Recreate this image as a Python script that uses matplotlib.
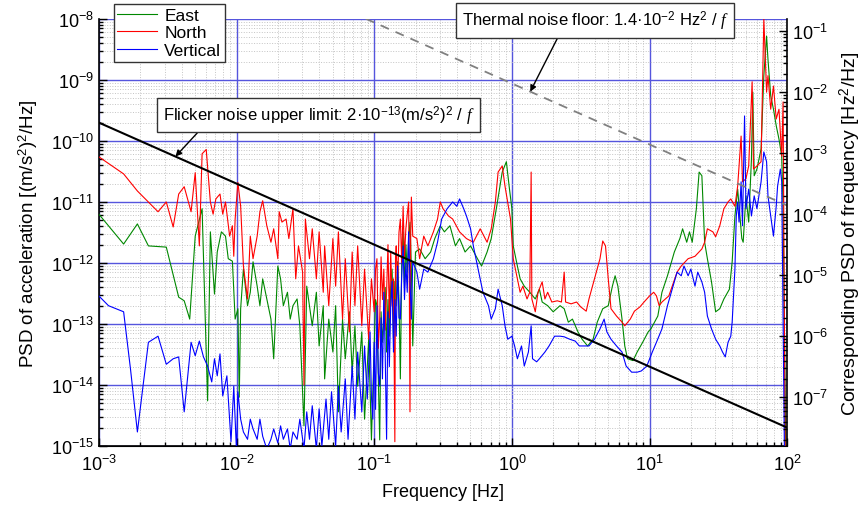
import numpy as np
import matplotlib
matplotlib.use("Agg")
import matplotlib.pyplot as plt
from matplotlib.ticker import LogLocator, NullFormatter

plt.rcParams['font.family'] = ['Liberation Sans', 'DejaVu Sans']
plt.rcParams['mathtext.fontset'] = 'custom'
plt.rcParams['mathtext.rm'] = 'Liberation Sans'
plt.rcParams['mathtext.it'] = 'Liberation Serif:italic'
plt.rcParams['mathtext.bf'] = 'Liberation Sans:bold'
plt.rcParams['mathtext.sf'] = 'Liberation Sans'

# (log10 frequency [Hz], log10 PSD [(m/s^2)^2/Hz])
east = [(-3.0, -11.2), (-2.82, -11.69), (-2.72, -11.36), (-2.64, -11.72), (-2.51, -11.74),
        (-2.42, -12.56), (-2.38, -12.62), (-2.34, -12.92), (-2.30, -11.56), (-2.25, -11.11),
        (-2.21, -14.26), (-2.19, -11.49), (-2.16, -12.51), (-2.14, -11.82), (-2.11, -11.49),
        (-2.08, -11.56), (-2.06, -11.93), (-2.03, -11.97), (-2.01, -12.92), (-1.99, -12.75),
        (-1.98, -14.2), (-1.97, -12.75), (-1.95, -12.1), (-1.92, -12.7), (-1.90, -12.48),
        (-1.88, -11.98), (-1.85, -12.38), (-1.83, -12.7), (-1.81, -12.26), (-1.78, -12.59),
        (-1.75, -12.92), (-1.73, -13.57), (-1.70, -12.05), (-1.68, -12.26), (-1.66, -12.7),
        (-1.63, -12.48), (-1.61, -12.92), (-1.59, -12.7), (-1.56, -12.59), (-1.54, -13.03),
        (-1.51, -14.67), (-1.49, -12.38), (-1.47, -12.7), (-1.45, -13.03), (-1.42, -12.48),
        (-1.40, -13.36), (-1.37, -12.7), (-1.36, -13.9), (-1.33, -12.92), (-1.30, -13.46),
        (-1.28, -12.7), (-1.26, -14.44), (-1.23, -12.92), (-1.21, -13.57), (-1.18, -12.8),
        (-1.16, -13.79), (-1.14, -13.03), (-1.12, -14.02), (-1.09, -13.13), (-1.07, -14.56),
        (-1.04, -13.25), (-1.02, -14.9), (-1.0, -13.36), (-0.99, -12.6), (-0.98, -12.7),
        (-0.97, -13.9), (-0.96, -14.9), (-0.95, -12.8), (-0.94, -13.3), (-0.93, -12.92),
        (-0.92, -12.4), (-0.91, -13.46), (-0.90, -12.6), (-0.89, -13.2), (-0.88, -12.38),
        (-0.87, -12.1), (-0.86, -13.25), (-0.85, -12.3), (-0.84, -12.7), (-0.83, -11.98),
        (-0.82, -12.6), (-0.81, -13.9), (-0.80, -12.0), (-0.79, -11.49), (-0.78, -12.4),
        (-0.77, -11.7), (-0.76, -12.15), (-0.75, -11.6), (-0.74, -11.33), (-0.73, -12.1),
        (-0.72, -13.36), (-0.70, -11.82), (-0.67, -11.77), (-0.63, -11.93), (-0.59, -11.82),
        (-0.56, -11.6), (-0.52, -11.39), (-0.49, -11.49), (-0.45, -11.39), (-0.41, -11.72),
        (-0.38, -11.6), (-0.34, -11.82), (-0.30, -11.72), (-0.25, -11.93), (-0.22, -12.05),
        (-0.18, -11.82), (-0.15, -11.6), (-0.11, -11.07), (-0.07, -10.51), (-0.04, -10.34),
        (-0.02, -10.74), (0.0, -11.11), (0.01, -11.72), (0.04, -12.05), (0.06, -12.26),
        (0.09, -12.38), (0.13, -12.48), (0.17, -12.59), (0.20, -12.43), (0.22, -12.64),
        (0.26, -12.7), (0.30, -12.8), (0.35, -12.7), (0.38, -12.75), (0.41, -12.97),
        (0.44, -12.92), (0.48, -13.13), (0.51, -13.25), (0.55, -13.36), (0.59, -13.25),
        (0.62, -12.97), (0.66, -12.75), (0.70, -12.7), (0.73, -12.38), (0.75, -12.21),
        (0.77, -12.38), (0.80, -12.92), (0.82, -13.36), (0.84, -13.57), (0.88, -13.6),
        (0.91, -13.46), (0.95, -13.3), (0.99, -13.13), (1.01, -13.08), (1.06, -12.87),
        (1.09, -12.48), (1.13, -12.21), (1.18, -11.82), (1.22, -11.6), (1.24, -11.44),
        (1.27, -11.66), (1.29, -11.49), (1.31, -11.66), (1.34, -11.11), (1.36, -10.51),
        (1.38, -10.57), (1.40, -11.66), (1.42, -11.93), (1.45, -12.31), (1.48, -12.8),
        (1.51, -12.75), (1.54, -12.59), (1.58, -12.43), (1.60, -11.98), (1.62, -11.23),
        (1.64, -10.79), (1.67, -11.6), (1.68, -11.66), (1.70, -10.9), (1.72, -11.33),
        (1.74, -10.3), (1.75, -9.2), (1.76, -10.57), (1.78, -10.46), (1.81, -10.13),
        (1.83, -8.93), (1.85, -8.28), (1.86, -8.66), (1.88, -9.26), (1.90, -9.48),
        (1.92, -9.75), (1.94, -9.97), (1.96, -10.25), (1.97, -11.11), (1.99, -15.2)]

north = [(-3.0, -10.26), (-2.82, -10.54), (-2.72, -10.82), (-2.57, -11.16), (-2.51, -11.0),
         (-2.46, -11.41), (-2.42, -10.87), (-2.38, -10.75), (-2.33, -11.16), (-2.30, -10.52),
         (-2.27, -11.72), (-2.25, -10.21), (-2.22, -10.14), (-2.19, -11.0), (-2.17, -11.2),
         (-2.15, -10.95), (-2.12, -10.87), (-2.10, -11.2), (-2.08, -11.0), (-2.05, -11.56),
         (-2.03, -11.39), (-2.02, -11.89), (-2.01, -11.28), (-1.99, -10.68), (-1.97, -11.07),
         (-1.95, -12.05), (-1.92, -12.59), (-1.90, -11.56), (-1.88, -11.93), (-1.85, -11.56),
         (-1.83, -11.16), (-1.81, -10.98), (-1.78, -11.39), (-1.75, -11.66), (-1.73, -11.44),
         (-1.70, -11.93), (-1.69, -11.16), (-1.67, -11.33), (-1.64, -11.28), (-1.62, -11.6),
         (-1.59, -11.11), (-1.57, -12.26), (-1.55, -11.72), (-1.52, -12.15), (-1.51, -14.0),
         (-1.50, -11.28), (-1.47, -11.93), (-1.45, -11.44), (-1.42, -12.26), (-1.40, -11.49),
         (-1.37, -12.48), (-1.36, -11.72), (-1.33, -12.7), (-1.30, -11.6), (-1.28, -12.38),
         (-1.26, -11.49), (-1.23, -12.92), (-1.21, -11.93), (-1.18, -13.13), (-1.16, -11.82),
         (-1.14, -12.7), (-1.12, -11.72), (-1.09, -13.03), (-1.07, -12.1), (-1.04, -13.25),
         (-1.02, -12.26), (-1.0, -12.8), (-0.99, -12.1), (-0.98, -11.93), (-0.97, -13.4),
         (-0.96, -12.92), (-0.95, -11.9), (-0.94, -12.6), (-0.93, -12.1), (-0.92, -13.1),
         (-0.91, -12.48), (-0.90, -11.7), (-0.89, -12.9), (-0.88, -11.82), (-0.87, -12.7),
         (-0.86, -12.26), (-0.85, -14.93), (-0.845, -11.9), (-0.84, -11.72), (-0.83, -12.4),
         (-0.82, -11.5), (-0.81, -11.28), (-0.80, -12.0), (-0.79, -11.07), (-0.78, -11.9),
         (-0.77, -11.44), (-0.76, -11.2), (-0.75, -11.0), (-0.745, -12.3), (-0.74, -14.44),
         (-0.735, -11.6), (-0.73, -10.92), (-0.72, -11.56), (-0.69, -11.6), (-0.67, -11.93),
         (-0.64, -11.56), (-0.61, -11.72), (-0.57, -11.49), (-0.54, -11.28), (-0.52, -11.0),
         (-0.50, -11.11), (-0.46, -11.23), (-0.43, -11.28), (-0.38, -11.49), (-0.33, -11.6),
         (-0.28, -11.66), (-0.23, -11.44), (-0.18, -11.66), (-0.15, -11.44), (-0.12, -11.0),
         (-0.10, -10.51), (-0.07, -10.41), (-0.05, -10.74), (-0.01, -11.28), (0.01, -11.93),
         (0.04, -12.26), (0.06, -12.48), (0.08, -12.38), (0.11, -12.59), (0.13, -12.48),
         (0.14, -10.51), (0.145, -12.59), (0.17, -12.8), (0.19, -12.48), (0.22, -12.31),
         (0.24, -12.59), (0.26, -12.48), (0.29, -12.64), (0.33, -12.62), (0.36, -12.64),
         (0.38, -12.15), (0.39, -12.64), (0.43, -12.67), (0.47, -12.64), (0.50, -12.72),
         (0.54, -12.79), (0.56, -12.59), (0.60, -12.26), (0.64, -11.93), (0.66, -11.64),
         (0.68, -11.72), (0.70, -12.26), (0.72, -12.75), (0.76, -12.87), (0.80, -12.97),
         (0.82, -13.03), (0.86, -12.92), (0.89, -12.79), (0.93, -12.72), (0.96, -12.64),
         (1.0, -12.54), (1.03, -12.48), (1.05, -12.54), (1.07, -12.7), (1.09, -12.64),
         (1.14, -12.54), (1.20, -12.15), (1.23, -12.05), (1.28, -11.93), (1.33, -11.89),
         (1.38, -11.77), (1.40, -11.66), (1.42, -11.44), (1.46, -11.49), (1.48, -11.57),
         (1.51, -11.39), (1.54, -11.11), (1.57, -11.0), (1.59, -10.95), (1.62, -11.07),
         (1.64, -10.74), (1.665, -9.92), (1.675, -10.67), (1.70, -10.62), (1.72, -10.41),
         (1.745, -9.03), (1.755, -10.46), (1.78, -10.41), (1.81, -10.34), (1.83, -8.0),
         (1.85, -9.2), (1.86, -8.93), (1.88, -9.48), (1.90, -9.1), (1.92, -9.64),
         (1.94, -9.48), (1.96, -10.25), (1.97, -9.36), (1.985, -15.2)]

vertical = [(-3.0, -12.54), (-2.93, -12.7), (-2.82, -12.8), (-2.77, -13.74), (-2.72, -14.77),
            (-2.64, -13.3), (-2.57, -13.2), (-2.51, -13.66), (-2.46, -13.57), (-2.42, -13.54),
            (-2.38, -14.44), (-2.33, -13.3), (-2.30, -13.52), (-2.27, -13.28), (-2.24, -13.54),
            (-2.21, -13.69), (-2.18, -13.95), (-2.16, -13.57), (-2.14, -13.85), (-2.12, -13.49),
            (-2.10, -14.18), (-2.07, -13.85), (-2.04, -14.93), (-2.02, -14.02), (-2.0, -15.1),
            (-1.99, -14.11), (-1.97, -14.56), (-1.95, -14.77), (-1.92, -14.89), (-1.90, -14.56),
            (-1.88, -14.72), (-1.85, -14.89), (-1.83, -14.56), (-1.81, -14.84), (-1.78, -15.05),
            (-1.75, -14.89), (-1.73, -14.72), (-1.70, -14.95), (-1.68, -14.67), (-1.66, -14.89),
            (-1.63, -14.72), (-1.61, -15.05), (-1.59, -14.77), (-1.56, -14.89), (-1.54, -14.56),
            (-1.51, -15.05), (-1.49, -14.44), (-1.47, -14.89), (-1.45, -14.34), (-1.42, -15.05),
            (-1.40, -14.39), (-1.38, -15.0), (-1.35, -14.23), (-1.33, -14.89), (-1.31, -14.11),
            (-1.28, -15.0), (-1.26, -14.02), (-1.24, -14.77), (-1.21, -13.9), (-1.19, -14.89),
            (-1.16, -13.69), (-1.14, -14.56), (-1.12, -13.46), (-1.09, -14.44), (-1.07, -13.36),
            (-1.05, -14.23), (-1.03, -13.13), (-1.02, -14.2), (-1.01, -14.56), (-1.0, -13.3),
            (-0.99, -14.4), (-0.98, -12.7), (-0.97, -13.8), (-0.96, -14.02), (-0.95, -12.9),
            (-0.94, -13.9), (-0.93, -12.48), (-0.92, -13.5), (-0.91, -14.89), (-0.90, -12.8),
            (-0.89, -13.7), (-0.88, -12.7), (-0.87, -12.3), (-0.86, -13.46), (-0.85, -12.6),
            (-0.84, -13.2), (-0.83, -12.05), (-0.82, -12.9), (-0.81, -12.92), (-0.80, -12.2),
            (-0.79, -11.72), (-0.78, -12.6), (-0.77, -12.0), (-0.76, -12.48), (-0.75, -11.49),
            (-0.74, -12.3), (-0.73, -12.92), (-0.72, -11.98), (-0.69, -12.15), (-0.67, -12.43),
            (-0.64, -12.1), (-0.61, -12.15), (-0.57, -11.93), (-0.54, -11.66), (-0.51, -11.28),
            (-0.47, -11.11), (-0.43, -11.0), (-0.40, -11.07), (-0.38, -10.95), (-0.35, -11.11),
            (-0.33, -11.23), (-0.30, -11.44), (-0.28, -11.72), (-0.25, -12.05), (-0.21, -12.48),
            (-0.17, -12.7), (-0.15, -12.92), (-0.12, -12.75), (-0.10, -12.43), (-0.07, -12.7),
            (-0.05, -13.03), (-0.03, -13.25), (0.0, -13.2), (0.02, -13.36), (0.04, -13.57),
            (0.07, -13.36), (0.09, -13.69), (0.12, -13.46), (0.14, -13.03), (0.15, -13.57),
            (0.18, -13.62), (0.20, -13.57), (0.24, -13.46), (0.27, -13.36), (0.31, -13.2),
            (0.35, -13.2), (0.38, -13.21), (0.42, -13.25), (0.46, -13.28), (0.49, -13.36),
            (0.53, -13.36), (0.56, -13.36), (0.60, -13.25), (0.64, -13.08), (0.67, -12.92),
            (0.69, -13.13), (0.72, -13.25), (0.76, -13.36), (0.80, -13.46), (0.83, -13.69),
            (0.87, -13.79), (0.91, -13.79), (0.94, -13.77), (0.98, -13.69), (1.02, -13.46),
            (1.05, -13.3), (1.09, -13.08), (1.13, -12.7), (1.18, -12.31), (1.20, -12.15),
            (1.23, -12.21), (1.25, -12.05), (1.28, -12.21), (1.30, -12.1), (1.33, -12.38),
            (1.35, -12.15), (1.38, -12.31), (1.40, -12.48), (1.42, -12.87), (1.45, -13.08),
            (1.48, -13.25), (1.51, -13.36), (1.53, -13.46), (1.55, -13.54), (1.57, -13.3),
            (1.59, -13.2), (1.60, -12.97), (1.62, -12.1), (1.63, -11.23), (1.64, -11.0),
            (1.65, -11.33), (1.665, -10.67), (1.675, -11.39), (1.69, -9.59), (1.70, -11.11),
            (1.72, -10.79), (1.74, -11.23), (1.76, -10.9), (1.78, -11.11), (1.81, -10.67),
            (1.83, -10.18), (1.85, -10.34), (1.86, -10.9), (1.88, -11.23), (1.90, -11.56),
            (1.92, -11.07), (1.93, -10.74), (1.95, -10.46), (1.96, -10.67), (1.98, -15.2)]

flicker_coef = 2e-13      # (m/s^2)^2
thermal_coef = 1.4e-2     # Hz^2
freq_to_acc = 1.6e7       # right-axis / left-axis scale factor
f_range = np.array([1e-3, 1e2])


def unlog(pairs):
    a = np.array(pairs)
    return 10 ** a[:, 0], 10 ** a[:, 1]


fig = plt.figure(figsize=(8.67, 5.06), dpi=100)
ax = fig.add_axes([0.114, 0.1166, 0.794, 0.8440])
ax.set_xscale('log')
ax.set_yscale('log')
ax.set_xlim(1e-3, 1e2)
ax.set_ylim(1e-15, 1e-8)

ax.grid(which='minor', color='#c4c4c4', linestyle=':', linewidth=0.7)
ax.grid(which='major', color='#5555dd', linestyle='-', linewidth=1.0)
ax.set_axisbelow(True)

lines = []
for data, col, lab in [(east, '#008800', 'East'), (north, '#ff0000', 'North'),
                       (vertical, '#0000ff', 'Vertical')]:
    f, p = unlog(data)
    ln, = ax.plot(f, p, color=col, lw=0.8, label=lab, zorder=3)
    lines.append(ln)

ax.plot(f_range, flicker_coef / f_range, color='black', lw=1.5, zorder=4)
ax.plot(f_range, thermal_coef / freq_to_acc / f_range, color='#808080', lw=1.3,
        ls=(0, (5, 4)), zorder=4)

ax.xaxis.set_major_locator(LogLocator(base=10, numticks=10))
ax.xaxis.set_minor_locator(LogLocator(base=10, subs=np.arange(2, 10), numticks=50))
ax.yaxis.set_major_locator(LogLocator(base=10, numticks=12))
ax.yaxis.set_minor_locator(LogLocator(base=10, subs=np.arange(2, 10), numticks=80))
ax.xaxis.set_minor_formatter(NullFormatter())
ax.yaxis.set_minor_formatter(NullFormatter())
ax.tick_params(which='both', direction='in', top=False, right=False, labelsize=13, width=1)
ax.tick_params(which='major', length=6)
ax.tick_params(which='minor', length=3)
ax.tick_params(axis='x', pad=6)
ax.spines['top'].set_visible(False)
ax.spines['right'].set_visible(False)
for s in ['left', 'bottom']:
    ax.spines[s].set_linewidth(1.2)

ax.set_xlabel('Frequency [Hz]', fontsize=13, labelpad=6)
ax.set_ylabel('PSD of acceleration [(m/s$^2$)$^2$/Hz]', fontsize=13.5, labelpad=8)

ax2 = ax.twinx()
ax2.set_yscale('log')
ax2.set_ylim(1e-15 * freq_to_acc, 1e-8 * freq_to_acc)
ax2.yaxis.set_major_locator(LogLocator(base=10, numticks=12))
ax2.yaxis.set_minor_locator(LogLocator(base=10, subs=np.arange(2, 10), numticks=80))
ax2.yaxis.set_minor_formatter(NullFormatter())
ax2.tick_params(which='both', direction='in', labelsize=13, width=1)
ax2.tick_params(which='major', length=6)
ax2.tick_params(which='minor', length=3)
ax2.spines['top'].set_visible(False)
ax2.spines['left'].set_visible(False)
ax2.spines['right'].set_linewidth(1.2)
ax2.set_ylabel('Corresponding PSD of frequency [Hz$^2$/Hz]', fontsize=14, labelpad=7)

leg = ax.legend(handles=lines, loc='upper left', bbox_to_anchor=(0.022, 1.035),
                fontsize=12.5, frameon=True, fancybox=False, framealpha=1,
                edgecolor='#333333', handlelength=2.3, handletextpad=0.4,
                labelspacing=0.15, borderpad=0.2, borderaxespad=0)
leg.get_frame().set_linewidth(1.0)
leg.set_zorder(10)

box = dict(boxstyle='square,pad=0.35', fc='white', ec='#333333', lw=1)
arrow = dict(arrowstyle='-|>', color='black', lw=1, mutation_scale=9, shrinkA=0, shrinkB=0)

f_th = 1.36
ax.annotate('Thermal noise floor: 1.4·10$^{-2}$ Hz$^2$ / $f$',
            xy=(f_th, thermal_coef / freq_to_acc / f_th), xycoords='data',
            xytext=(0.721, 0.996), textcoords='axes fraction',
            ha='center', va='center', fontsize=12, bbox=box,
            arrowprops=dict(arrow, relpos=(0.37, 0.0)), zorder=10, annotation_clip=False)

f_fl = 3.6e-3
ax.annotate('Flicker noise upper limit: 2·10$^{-13}$(m/s$^2$)$^2$ / $f$',
            xy=(f_fl, flicker_coef / f_fl), xycoords='data',
            xytext=(0.319, 0.775), textcoords='axes fraction',
            ha='center', va='center', fontsize=12, bbox=box,
            arrowprops=dict(arrow, relpos=(0.13, 0.0)), zorder=10)

fig.savefig('out.png', dpi=100)
